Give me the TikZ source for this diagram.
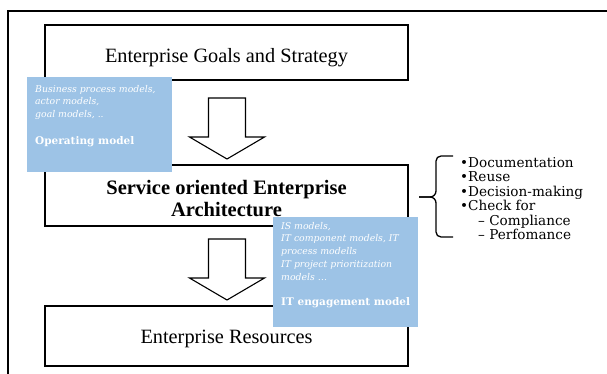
\documentclass[tikz,border=0pt]{standalone}
\usepackage{fontspec}
\setmainfont{DejaVu Serif}
\newfontfamily\boxfont{Liberation Serif}
\definecolor{bluebox}{RGB}{157,195,230}
\begin{document}
\begin{tikzpicture}[x=1pt,y=-1pt,
  blk/.style={draw=black,line width=1.4pt,minimum width=363pt,inner sep=0pt,fill=white},
  blktext/.style={inner sep=0pt,anchor=base,font=\boxfont\fontsize{20.3}{22}\selectfont},
  bluebx/.style={fill=bluebox,inner sep=0pt,anchor=north west},
  hollow/.style={draw=black,line width=1.1pt,fill=white,line join=miter},
  note/.style={text=white,font=\fontsize{9.3}{12.7}\selectfont\itshape,align=left,inner sep=0pt,anchor=north west},
  notehead/.style={text=white,font=\fontsize{10.5}{12}\selectfont\bfseries,inner sep=0pt,anchor=base west},
  blockarrow/.pic={\draw[hollow] (-18.5,0) -- (18.5,0) -- (18.5,39) -- (37.5,39) -- (0,61) -- (-37.5,39) -- (-18.5,39) -- cycle;}
]
\useasboundingbox (0,0) rectangle (607,374);
\draw[line width=1.3pt] (8,380) -- (8,11) -- (610,11);

\node[blk,minimum height=55pt] (goals) at (226.5,52.5) {};
\node[blktext] (goalst) at (226.5,63) {Enterprise Goals and Strategy};
\node[blk,minimum height=61pt] (soea) at (226.5,195.5) {};
\node[blktext,font=\boxfont\fontsize{20.5}{22}\selectfont\bfseries] (soeat1) at (226.5,194) {Service oriented Enterprise};
\node[blktext,font=\boxfont\fontsize{20.5}{22}\selectfont\bfseries] (soeat2) at (226.5,216) {Architecture};
\node[blk,minimum height=60pt] (res) at (226.5,336) {};
\node[blktext] (rest) at (226.5,343) {Enterprise Resources};

\pic at (227,98) {blockarrow};
\pic at (227,239) {blockarrow};

\node[bluebx,minimum width=145pt,minimum height=95pt] (op) at (27,77) {};
\node[note] (opt) at (35,85) {Business process models,\\actor models,\\goal models, ..};
\node[notehead] (oph) at (35,145) {Operating model};

\node[bluebx,minimum width=145pt,minimum height=110pt] (it) at (273,217) {};
\node[note] (itt) at (281,222) {IS models,\\IT component models, IT\\process modells\\IT project prioritization\\models …};
\node[notehead] (ith) at (281,305) {IT engagement model};

\draw[line width=1.3pt] (453,156) -- (441,156) to[out=180,in=90] (436,161) -- (436,191) to[out=-90,in=0] (430,197) -- (419,197);
\draw[line width=1.3pt] (419,197) -- (430,197) to[out=0,in=90] (436,203) -- (436,232) to[out=-90,in=180] (441,237) -- (453,237);

\node[inner sep=0pt,anchor=north west,align=left,font=\fontsize{13.6}{14.4}\selectfont] (list) at (460,157.2)
 {•Documentation\\•Reuse\\•Decision-making\\•Check for\\\hspace*{18pt}– Compliance\\\hspace*{18pt}– Perfomance};
\end{tikzpicture}
\end{document}
